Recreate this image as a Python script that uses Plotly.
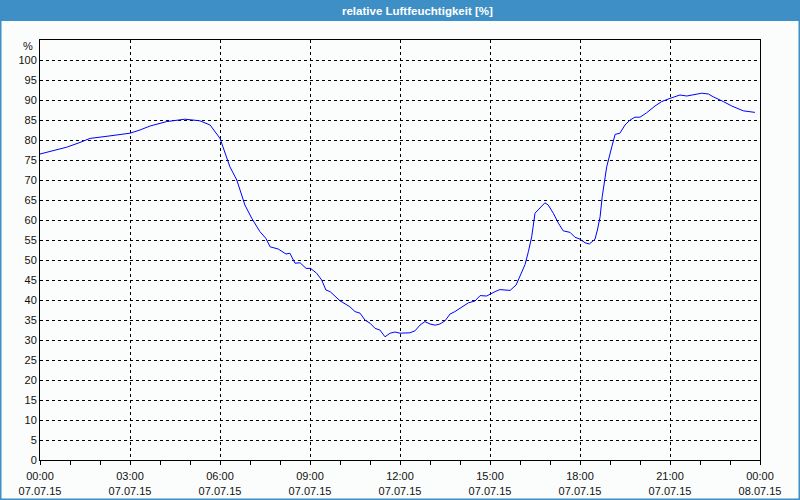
import plotly.graph_objects as go
import pandas as pd

# Time of day in hours (07.07.15) and relative humidity in %
hours = [0.0, 0.5, 0.89, 1.3, 1.67, 2.2, 2.6, 3.0, 3.33, 3.67, 4.22, 4.67, 4.83, 5.33, 5.67,
         6.0, 6.33, 6.56, 6.83, 7.06, 7.33, 7.53, 7.67, 7.94, 8.2, 8.33, 8.5, 8.67, 8.87, 9.02,
         9.22, 9.39, 9.53, 9.67, 9.94, 10.0, 10.33, 10.5, 10.67, 10.83, 11.0, 11.17, 11.33, 11.5,
         11.67, 11.83, 12.0, 12.33, 12.5, 12.67, 12.83, 13.0, 13.17, 13.33, 13.5, 13.67, 13.83,
         14.0, 14.28, 14.5, 14.67, 14.89, 15.0, 15.17, 15.33, 15.67, 15.87, 16.0, 16.17, 16.28,
         16.39, 16.5, 16.61, 16.83, 16.94, 17.11, 17.28, 17.44, 17.67, 17.83, 18.0, 18.17, 18.31,
         18.5, 18.58, 18.67, 18.74, 18.81, 18.89, 19.06, 19.17, 19.33, 19.5, 19.67, 19.83, 20.0,
         20.22, 20.5, 20.72, 21.0, 21.33, 21.56, 21.89, 22.06, 22.28, 22.44, 22.78, 23.06, 23.44,
         23.83]
humidity = [76.5, 77.5, 78.2, 79.3, 80.4, 80.9, 81.3, 81.7, 82.5, 83.5, 84.6, 85.0, 85.2, 84.8, 83.75,
            80.4, 73.3, 70.0, 63.75, 60.4, 57.1, 55.4, 53.3, 52.75, 51.5, 51.7, 49.2, 49.3, 47.9, 47.9,
            46.7, 45.0, 42.5, 42.1, 40.2, 39.8, 38.3, 37.1, 36.7, 35.0, 34.2, 32.9, 32.5, 30.8,
            31.7, 32.0, 31.7, 31.8, 32.3, 33.75, 34.6, 34.0, 33.7, 34.0, 34.8, 36.5, 37.1,
            37.9, 39.3, 39.75, 41.1, 41.0, 41.5, 42.1, 42.6, 42.4, 43.75, 45.8, 48.9, 52.1,
            55.8, 61.7, 62.5, 64.3, 63.75, 61.7, 59.2, 57.3, 56.9, 55.7, 55.2, 54.3, 54.0,
            55.2, 57.5, 60.8, 65.8, 70.0, 73.3, 78.3, 81.4, 81.7, 83.75, 85.0, 85.7, 85.7,
            86.8, 88.5, 89.6, 90.4, 91.25, 91.0, 91.4, 91.7, 91.5, 90.8, 89.6, 88.5, 87.3,
            86.9]
start_day = "2015-07-07"
end_day = "2015-07-08"
y_ticks = list(range(0, 101, 5))
title_text = "relative Luftfeuchtigkeit [%]"
unit_text = "%"

base = pd.Timestamp(start_day)
times = [base + pd.Timedelta(hours=h) for h in hours]

FONT = "Liberation Sans"
BLUE = "#3d8fc6"
BG = "#fbfdfc"

fig = go.Figure()
fig.add_trace(go.Scatter(x=times, y=humidity, mode="lines",
                         line=dict(color="#0000ff", width=1), showlegend=False))

W, H = 800, 500
L, R, T, B = 40, 40, 40, 40
pw, ph = W - L - R, H - T - B


def px_x(x):
    return (x - L) / pw


def px_y(y):
    return 1 + (T - y) / ph


fig.update_layout(
    width=W, height=H,
    margin=dict(l=L, r=R, t=T, b=B, autoexpand=False),
    paper_bgcolor=BG, plot_bgcolor=BG,
    font=dict(family=FONT, size=11, color="#111111"),
    xaxis=dict(
        type="date",
        range=[pd.Timestamp(start_day), pd.Timestamp(end_day)],
        dtick=3 * 3600 * 1000,
        tick0=pd.Timestamp(start_day),
        tickformat="%H:%M<br>%d.%m.%y",
        showgrid=True, gridcolor="black", gridwidth=1, griddash="3px,3px",
        showline=True, linecolor="black", linewidth=1, mirror=True,
        ticks="outside", ticklen=4, tickcolor="black",
        ticklabelstandoff=2, automargin=False,
        minor=dict(dtick=3600 * 1000, ticks="outside", ticklen=4, tickcolor="black", showgrid=False),
        zeroline=False,
    ),
    yaxis=dict(
        range=[0, 105],
        tickvals=y_ticks,
        showgrid=True, gridcolor="black", gridwidth=1, griddash="3px,3px",
        showline=True, linecolor="black", linewidth=1, mirror=True,
        ticks="", zeroline=False, automargin=False,
    ),
    shapes=[
        dict(type="rect", xref="paper", yref="paper",
             x0=px_x(0), x1=px_x(W), y0=px_y(21), y1=px_y(0),
             fillcolor=BLUE, line=dict(width=0), layer="above"),
        dict(type="rect", xref="paper", yref="paper",
             x0=px_x(0), x1=px_x(W), y0=px_y(H), y1=px_y(0),
             fillcolor="rgba(0,0,0,0)", line=dict(color=BLUE, width=3), layer="above"),
    ],
    annotations=[
        dict(text="<b>" + title_text + "</b>", xref="paper", yref="paper",
             x=px_x(417), y=px_y(10.5), showarrow=False,
             font=dict(family=FONT, size=11.5, color="white"),
             xanchor="center", yanchor="middle"),
        dict(text=unit_text, xref="paper", yref="paper",
             x=px_x(35), y=px_y(46), showarrow=False,
             xanchor="right", yanchor="middle", font=dict(size=11)),
    ],
)

fig.write_html("out.html")
